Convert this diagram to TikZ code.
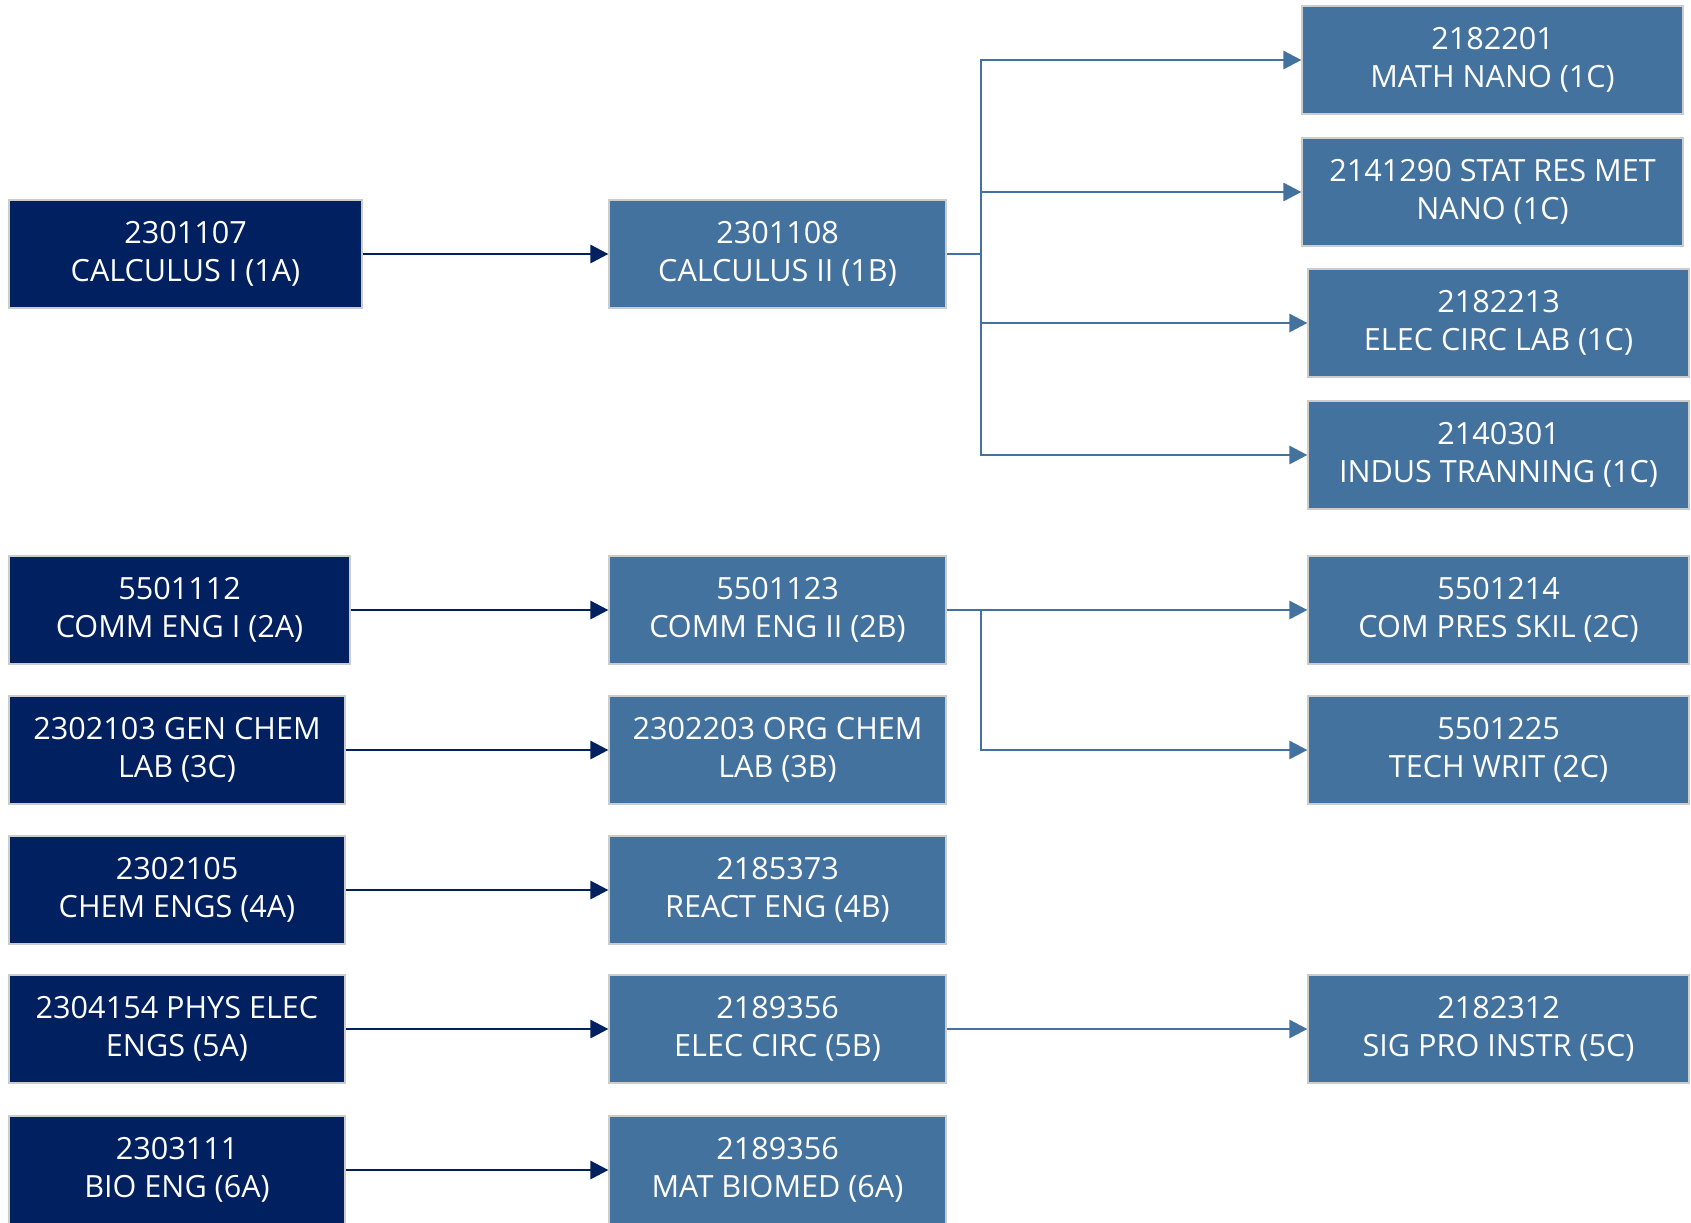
\documentclass[tikz,border=0pt]{standalone}
\usepackage{fontspec}
\setmainfont{Open Sans}
\usetikzlibrary{arrows.meta,positioning,calc}

\definecolor{navy}{HTML}{002060}
\definecolor{steel}{HTML}{44729E}

\begin{document}
\begin{tikzpicture}[
  x=0.5pt, y=-0.5pt,
  crs/.style={draw=gray!40, line width=0.6pt, minimum height=54pt,
              inner sep=0pt, align=center, text=white,
              font=\fontsize{15.3}{19}\selectfont},
  yr1/.style={crs, fill=navy},
  yr2/.style={crs, fill=steel},
  arA/.style={-{Triangle[length=9pt, width=9pt]}, line width=1.4pt, draw=navy},
  arB/.style={-{Triangle[length=9pt, width=9pt]}, line width=1.4pt, draw=steel}
]
  \useasboundingbox (0,0) rectangle (1691,1222);

  % first column
  \node[yr1, minimum width=176.5pt] (calA) at (185.5,254)  {2301107\\CALCULUS I (1A)};
  \node[yr1, minimum width=170.5pt] (comA) at (179.5,610)  {5501112\\COMM ENG I (2A)};
  \node[yr1, minimum width=168pt]   (chmA) at (177,750)    {2302103 GEN CHEM\\LAB (3C)};
  \node[yr1, minimum width=168pt]   (cheA) at (177,890)    {2302105\\CHEM ENGS (4A)};
  \node[yr1, minimum width=168pt]   (phyA) at (177,1029)   {2304154 PHYS ELEC\\ENGS (5A)};
  \node[yr1, minimum width=168pt]   (bioA) at (177,1170)   {2303111\\BIO ENG (6A)};

  % second column
  \node[yr2, minimum width=168.5pt] (calB) at (777.5,254)  {2301108\\CALCULUS II (1B)};
  \node[yr2, minimum width=168.5pt] (comB) at (777.5,610)  {5501123\\COMM ENG II (2B)};
  \node[yr2, minimum width=168.5pt] (chmB) at (777.5,750)  {2302203 ORG CHEM\\LAB (3B)};
  \node[yr2, minimum width=168.5pt] (cheB) at (777.5,890)  {2185373\\REACT ENG (4B)};
  \node[yr2, minimum width=168.5pt] (phyB) at (777.5,1029) {2189356\\ELEC CIRC (5B)};
  \node[yr2, minimum width=168.5pt] (bioB) at (777.5,1170) {2189356\\MAT BIOMED (6A)};

  % third column
  \node[yr2, minimum width=190.5pt] (mthC) at (1492.5,60)  {2182201\\MATH NANO (1C)};
  \node[yr2, minimum width=190.5pt] (staC) at (1492.5,192) {2141290 STAT RES MET\\NANO (1C)};
  \node[yr2, minimum width=190.5pt] (labC) at (1498.5,323) {2182213\\ELEC CIRC LAB (1C)};
  \node[yr2, minimum width=190.5pt] (indC) at (1498.5,455) {2140301\\INDUS TRANNING (1C)};
  \node[yr2, minimum width=190.5pt] (preC) at (1498.5,610) {5501214\\COM PRES SKIL (2C)};
  \node[yr2, minimum width=190.5pt] (wrtC) at (1498.5,750) {5501225\\TECH WRIT (2C)};
  \node[yr2, minimum width=190.5pt] (sigC) at (1498.5,1029) {2182312\\SIG PRO INSTR (5C)};

  \coordinate (busA) at (981,254);
  \coordinate (busB) at (981,610);

  \draw[arA] (calA) -- (calB);
  \draw[arA] (comA) -- (comB);
  \draw[arA] (chmA) -- (chmB);
  \draw[arA] (cheA) -- (cheB);
  \draw[arA] (phyA) -- (phyB);
  \draw[arA] (bioA) -- (bioB);

  \draw[arB] (calB.east) -- (busA) |- (mthC.west);
  \draw[arB] (busA) |- (staC.west);
  \draw[arB] (busA) |- (labC.west);
  \draw[arB] (busA) |- (indC.west);
  \draw[arB] (comB) -- (preC);
  \draw[arB] (busB) |- (wrtC.west);
  \draw[arB] (phyB) -- (sigC);
\end{tikzpicture}
\end{document}
